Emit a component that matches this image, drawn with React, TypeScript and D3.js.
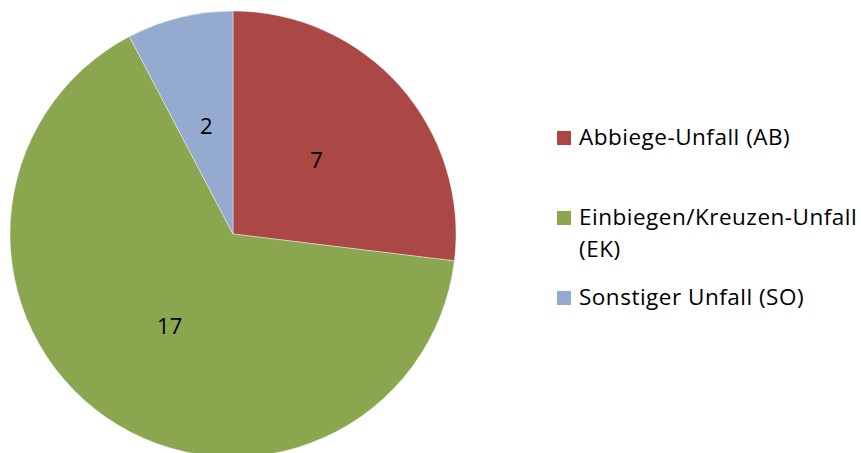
import React, { useEffect, useRef } from 'react';
import * as d3 from 'd3';

// Unfalltypen und Anzahl
const categories = ['Abbiege-Unfall (AB)', 'Einbiegen/Kreuzen-Unfall (EK)', 'Sonstiger Unfall (SO)'];
const legendLines = [['Abbiege-Unfall (AB)'], ['Einbiegen/Kreuzen-Unfall', '(EK)'], ['Sonstiger Unfall (SO)']];
const counts = [7, 17, 2];
const colors = ['#AB4745', '#8AA64F', '#94AACF'];

const width = 861;
const height = 453;
const FONT = '"Open Sans", "Noto Sans", sans-serif';

const App = () => {
    const svgRef = useRef<SVGSVGElement>(null);

    useEffect(() => {
        const svg = d3.select(svgRef.current);
        svg.selectAll('*').remove();

        const cx = 233;
        const cy = 234;
        const radius = 223;

        const data = categories.map((c, i) => ({ name: c, value: counts[i], color: colors[i] }));

        // pie starts at 12 o'clock, clockwise like Excel
        const pie = d3.pie<any>().value(d => d.value).sort(null);
        const arc = d3.arc<any>().innerRadius(0).outerRadius(radius);
        const arcs = pie(data);

        const g = svg.append('g').attr('transform', `translate(${cx},${cy})`);

        g.selectAll('path')
            .data(arcs)
            .enter()
            .append('path')
            .attr('d', arc)
            .attr('fill', d => d.data.color)
            .attr('stroke', '#ffffff')
            .attr('stroke-width', 0.4);

        // value labels at half radius
        g.selectAll('.pie-label')
            .data(arcs)
            .enter()
            .append('text')
            .attr('class', 'pie-label')
            .attr('transform', d => `translate(${arc.centroid(d)})`)
            .attr('dy', '0.36em')
            .attr('text-anchor', 'middle')
            .style('font-family', FONT)
            .style('font-size', '22px')
            .attr('fill', '#000')
            .text(d => d.data.value);

        // legend
        const legend = svg.append('g').attr('transform', 'translate(557,145)');
        const rowStep = 80;
        const lineHeight = 32;

        const rows = legend.selectAll('.legend-row')
            .data(data)
            .enter()
            .append('g')
            .attr('class', 'legend-row')
            .attr('transform', (d, i) => `translate(0,${i * rowStep})`);

        rows.append('rect')
            .attr('x', 0)
            .attr('y', -14)
            .attr('width', 14)
            .attr('height', 14)
            .attr('fill', d => d.color);

        rows.append('text')
            .attr('x', 22)
            .attr('y', 0)
            .style('font-family', FONT)
            .style('font-size', '22.5px')
            .style('letter-spacing', '0.5px')
            .attr('fill', '#000')
            .each(function (d, i) {
                const t = d3.select(this);
                legendLines[i].forEach((line, j) => {
                    t.append('tspan')
                        .attr('x', 22)
                        .attr('y', j * lineHeight)
                        .text(line);
                });
            });
    }, []);

    return (
        <svg
            ref={svgRef}
            width={width}
            height={height}
            style={{ position: 'absolute', left: 0, top: 0, background: '#fff' }}
        ></svg>
    );
};

export default App;
